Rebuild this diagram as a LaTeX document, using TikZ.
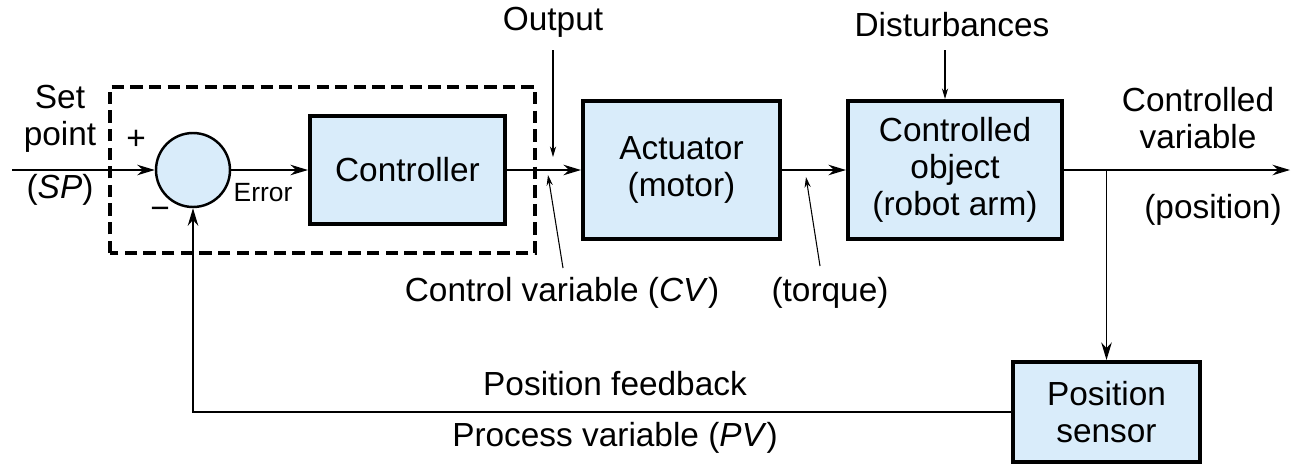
\documentclass[tikz,border=0pt]{standalone}
\usepackage{fontspec}
\setmainfont{Liberation Sans}
\usetikzlibrary{arrows.meta}
\definecolor{blockblue}{RGB}{217,236,250}
\tikzset{
  block/.style={draw,line width=2.3pt,fill=blockblue,align=center,inner sep=0pt},
  junction/.style={circle,draw,line width=1.4pt,fill=blockblue,minimum size=1.48cm,inner sep=0pt},
  sig/.style={line width=0.8pt,->},
  pointer/.style={line width=0.6pt,-{Stealth[length=6pt,width=3.5pt]}},
  lbl/.style={align=center,inner sep=0pt},
}
\begin{document}
\begin{tikzpicture}[font=\fontsize{19}{21}\selectfont, line join=miter, >={Stealth[length=10pt,width=6pt]}]
\useasboundingbox (0,0) rectangle (26.02,9.34);
% forward path
\node[junction] (sum) at (3.86,5.94) {};
\node[block,minimum width=3.9cm,minimum height=2.16cm] (ctrl) at (8.15,5.94) {Controller};
\node[block,minimum width=3.94cm,minimum height=2.76cm] (act) at (13.63,5.94) {Actuator\\(motor)};
\node[block,minimum width=4.28cm,minimum height=2.76cm] (obj) at (19.1,5.94) {Controlled\\object\\(robot arm)};
\node[block,minimum width=3.74cm,minimum height=2.0cm] (sens) at (22.13,1.1) {Position\\sensor};
% controller unit
\draw[line width=2pt,dash pattern=on 7pt off 3.6pt] (2.2,4.28) rectangle (10.7,7.6);
\coordinate (in) at (0.24,5.94);
\coordinate (out) at (25.8,5.94);
\coordinate (tap) at (22.13,5.94);
\draw[sig] (in) -- (sum);
\draw[sig] (sum) -- (ctrl);
\draw[sig] (ctrl) -- (act);
\draw[sig] (act) -- (obj);
\draw[sig] (obj) -- (out);
\draw[sig] (tap) -- (sens);
\draw[sig] (sens.west) -| (sum.south);
% labels
\node[lbl] (setpt) at (1.2,6.96) {Set\\point};
\node[lbl] (sp) at (1.2,5.54) {(\textit{SP})};
\node[lbl] (plus) at (2.72,6.54) {+};
\node[lbl] (minus) at (3.2,5.08) {−};
\node[lbl,font=\fontsize{15}{18}\selectfont] (err) at (5.26,5.48) {Error};
\node[lbl] (outlbl) at (11.06,8.9) {Output};
\node[lbl] (cvlbl) at (11.24,3.48) {Control variable (\textit{CV})};
\node[lbl] (tqlbl) at (16.6,3.48) {(torque)};
\node[lbl] (dist) at (19.04,8.84) {Disturbances};
\node[lbl] (cvar) at (23.96,6.98) {Controlled\\variable};
\node[lbl] (pos) at (24.26,5.14) {(position)};
\node[lbl] (fb) at (12.3,1.66) {Position feedback};
\node[lbl] (pv) at (12.3,0.58) {Process variable (\textit{PV})};
% pointers
\coordinate (outtail) at (11.06,8.34);
\coordinate (outtip) at (11.06,6.2);
\coordinate (cvtail) at (11.26,3.98);
\coordinate (cvtip) at (10.96,5.84);
\coordinate (tqtail) at (16.4,4.02);
\coordinate (tqtip) at (16.12,5.8);
\coordinate (disttail) at (18.9,8.34);
\draw[pointer] (outtail) -- (outtip);
\draw[pointer] (cvtail) -- (cvtip);
\draw[pointer] (tqtail) -- (tqtip);
\draw[pointer] (disttail) -- (disttail |- obj.north);
\end{tikzpicture}
\end{document}
